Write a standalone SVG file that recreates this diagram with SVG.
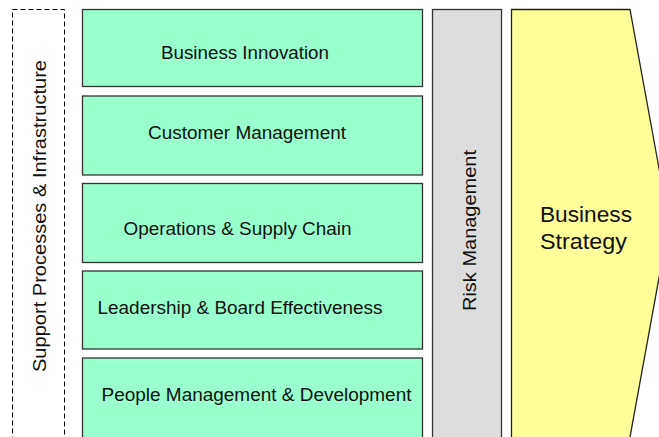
<svg xmlns="http://www.w3.org/2000/svg" width="659" height="437" viewBox="0 0 659 437">
  <style>
    .lbl { font-family: "Liberation Sans", Arial, sans-serif; font-size: 17.5px; fill: #111; }
    .vlbl { font-family: "Liberation Sans", Arial, sans-serif; font-size: 18.5px; fill: #111; }
    .big { font-family: "Liberation Sans", Arial, sans-serif; font-size: 21.5px; fill: #111; }
    .area { fill: #99FFCC; stroke: #333; stroke-width: 1.3; }
  </style>
  <rect width="659" height="437" fill="#fff"/>

  <!-- support band -->
  <g id="support">
    <rect x="12.5" y="9.5" width="52" height="440" fill="none" stroke="#000" stroke-width="1" stroke-dasharray="5 3"/>
    <text class="vlbl" transform="translate(46,372) rotate(-90)" textLength="312" lengthAdjust="spacingAndGlyphs">Support Processes &amp; Infrastructure</text>
  </g>

  <!-- capability areas -->
  <g id="innovation">
    <rect class="area" x="82.5" y="9.5" width="340" height="77"/>
    <text class="lbl" x="161" y="58.5" textLength="168" lengthAdjust="spacingAndGlyphs">Business Innovation</text>
  </g>
  <g id="customer">
    <rect class="area" x="82.5" y="96" width="340" height="79"/>
    <text class="lbl" x="148" y="139" textLength="198" lengthAdjust="spacingAndGlyphs">Customer Management</text>
  </g>
  <g id="operations">
    <rect class="area" x="82.5" y="183.5" width="340" height="79"/>
    <text class="lbl" x="123.5" y="235" textLength="228" lengthAdjust="spacingAndGlyphs">Operations &amp; Supply Chain</text>
  </g>
  <g id="leadership">
    <rect class="area" x="82.5" y="271" width="340" height="78"/>
    <text class="lbl" x="97.5" y="314" textLength="285" lengthAdjust="spacingAndGlyphs">Leadership &amp; Board Effectiveness</text>
  </g>
  <g id="people">
    <rect class="area" x="82.5" y="358" width="340" height="95"/>
    <text class="lbl" x="101.5" y="401" textLength="310" lengthAdjust="spacingAndGlyphs">People Management &amp; Development</text>
  </g>

  <!-- risk band -->
  <g id="risk">
    <rect x="432.5" y="9.5" width="69" height="445" fill="#DDDDDD" stroke="#333" stroke-width="1.3"/>
    <text class="vlbl" transform="translate(476,311) rotate(-90)" textLength="161" lengthAdjust="spacingAndGlyphs">Risk Management</text>
  </g>

  <!-- strategy arrow -->
  <g id="strategy">
    <polygon points="511.5,9.5 630,9.5 669,223 628,448 511.5,448" fill="#FFFF99" stroke="#222" stroke-width="1.3"/>
    <text class="big" x="540" y="221.5" textLength="92" lengthAdjust="spacingAndGlyphs">Business</text>
    <text class="big" x="540" y="248.5" textLength="87" lengthAdjust="spacingAndGlyphs">Strategy</text>
  </g>

  <g id="connectors"/>
</svg>
